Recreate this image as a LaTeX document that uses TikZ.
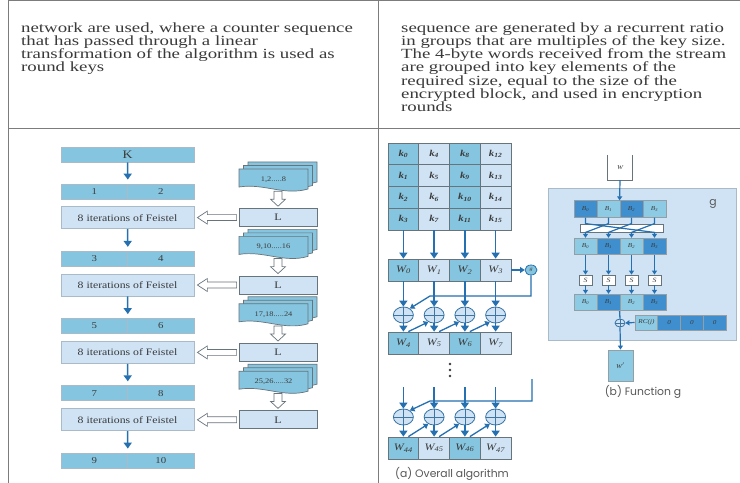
\documentclass[tikz,border=0pt]{standalone}
\usepackage{fontspec}
\setmainfont{Liberation Serif}
\newfontfamily\bodyfont[FakeStretch=1.345]{Liberation Serif}
\newfontfamily\labfont[FakeStretch=1.2]{Liberation Serif}
\newfontfamily\capfont{Poppins}
\usetikzlibrary{arrows.meta,calc,shapes.geometric}

\definecolor{ruleg}{HTML}{7C7C7C}
\definecolor{ink}{HTML}{3A3A3A}
\definecolor{cyanA}{HTML}{86C5DF}
\definecolor{paleA}{HTML}{CFE3F5}
\definecolor{deepB}{HTML}{3F8FCF}
\definecolor{cyanB}{HTML}{8DCBE4}
\definecolor{flow}{HTML}{2470B0}
\definecolor{edgeL}{HTML}{A9BBC8}
\definecolor{edgeD}{HTML}{67747C}

\tikzset{
  tabrule/.style={draw=ruleg, line width=1bp},
  cellbase/.style={inner sep=0pt, text=ink, line width=0.8bp},
  barcell/.style={cellbase, draw=edgeL, fill=cyanA, minimum height=15bp,
    font=\labfont\fontsize{9bp}{9bp}\selectfont},
  feistel/.style={cellbase, draw=edgeL, fill=paleA, minimum width=133bp, minimum height=22bp,
    font=\labfont\fontsize{9.8bp}{10bp}\selectfont},
  lbox/.style={cellbase, draw=edgeD, fill=paleA, minimum width=78bp, minimum height=18bp,
    font=\labfont\fontsize{10bp}{10bp}\selectfont},
  sheet/.style={draw=edgeD, fill=cyanA, line width=0.7bp},
  hollow/.style={draw=edgeD, fill=white, line width=0.7bp},
  flowarrow/.style={draw=flow, line width=1.5bp, -{Triangle[length=6bp,width=8bp]}},
  flowthin/.style={draw=flow, line width=1.3bp, -{Triangle[length=4.5bp,width=6bp]}},
  flowsmall/.style={draw=flow, line width=1.2bp, -{Triangle[length=4bp,width=5bp]}},
  flowline/.style={draw=flow, line width=1.3bp},
  kcell/.style={cellbase, draw=edgeD, minimum width=30.75bp, minimum height=21.75bp,
    font=\labfont\fontsize{9bp}{9bp}\selectfont\bfseries\itshape},
  wcell/.style={cellbase, draw=edgeD, minimum width=30.75bp, minimum height=22bp,
    font=\labfont\fontsize{10bp}{10bp}\selectfont\itshape},
  xorop/.style={ellipse, draw=flow!80!gray, fill=paleA, line width=0.8bp, inner sep=0pt,
    minimum width=20bp, minimum height=16bp,
    path picture={\draw[draw=flow!70!gray, line width=0.6bp]
      (path picture bounding box.north) -- (path picture bounding box.south)
      (path picture bounding box.west) -- (path picture bounding box.east);}},
  bcell/.style={cellbase, draw=edgeD!70, minimum width=23bp, minimum height=16.5bp,
    font=\labfont\fontsize{6bp}{6bp}\selectfont\itshape},
  sbox/.style={cellbase, draw=edgeD, fill=white, minimum width=13bp, minimum height=10bp,
    font=\labfont\fontsize{6.5bp}{6.5bp}\selectfont\itshape},
  captext/.style={text=ink!85, font=\capfont\fontsize{10.8bp}{11bp}\selectfont, inner sep=0pt},
  para/.style={anchor=north west, inner sep=0pt, text width=360bp, align=left, text=ink,
    font=\bodyfont\fontsize{14bp}{13.15bp}\selectfont},
}

% hollow block arrow pointing down, from point #1 to just above point #2
\newcommand\hollowdown[2]{%
  \path[hollow] let \p1=(#1), \p2=(#2) in
    (\x1-4pt,\y1) -- (\x1-4pt,\y2+9pt) -- (\x1-7.5pt,\y2+9pt) -- (\x1,\y2+2pt)
    -- (\x1+7.5pt,\y2+9pt) -- (\x1+4pt,\y2+9pt) -- (\x1+4pt,\y1) -- cycle;}
% hollow block arrow pointing left, from point #1 to just right of point #2
\newcommand\hollowleft[2]{%
  \path[hollow] let \p1=(#1), \p2=(#2) in
    (\x1-2pt,\y1+3pt) -- (\x2+13pt,\y1+3pt) -- (\x2+13pt,\y1+6.5pt) -- (\x2+3pt,\y1)
    -- (\x2+13pt,\y1-6.5pt) -- (\x2+13pt,\y1-3pt) -- (\x1-2pt,\y1-3pt) -- cycle;}
% one document sheet with a wavy lower edge, top-left corner at (#1,#2)
\newcommand\docsheet[2]{%
  \filldraw[sheet] (#1,#2) -- (#1+69,#2) -- (#1+69,#2+20)
    .. controls (#1+45,#2+27) and (#1+25,#2+14) .. (#1,#2+18) -- cycle;}
% a stack of three sheets with a named label node
\newcommand\docstack[4]{%
  \docsheet{#2+9}{#3-7}\docsheet{#2+4.5}{#3-3.5}\docsheet{#2}{#3}%
  \node[inner sep=0pt, minimum width=69bp, minimum height=23bp, text=ink,
        font=\labfont\fontsize{7bp}{7bp}\selectfont] (#1) at (#2+34.5,#3+10.5) {#4};}

\begin{document}
\begin{tikzpicture}[x=1bp,y=-1bp]
\useasboundingbox (0,0) rectangle (740,483);
\fill[white] (0,0) rectangle (740,483);

% table rules
\draw[tabrule] (8,1) -- (740,1);
\draw[tabrule] (8,129) -- (740,129);
\draw[tabrule] (8,1) -- (8,483);
\draw[tabrule] (378,1) -- (378,483);

% paragraphs
\node[para] (ltext) at (21,22.5) {network are used, where a counter sequence\\
that has passed through a linear\\
transformation of the algorithm is used as\\
round keys};
\node[para] (rtext) at (401,22.5) {sequence are generated by a recurrent ratio\\
in groups that are multiples of the key size.\\
The 4-byte words received from the stream\\
are grouped into key elements of the\\
required size, equal to the size of the\\
encrypted block, and used in encryption\\
rounds};

% ---------- key schedule with Feistel rounds ----------
\node[barcell, minimum width=133bp, font=\labfont\fontsize{11.5bp}{11.5bp}\selectfont] (K) at (127.5,154.5) {K};
\foreach \i/\yy/\la/\lb in {1/191.5/1/2, 2/258.75/3/4, 3/326/5/6, 4/393.25/7/8, 5/460.5/9/10} {
  \node[barcell, minimum width=66.5bp] (ha\i) at (94.25,\yy) {\la};
  \node[barcell, minimum width=66.5bp] (hb\i) at (160.75,\yy) {\lb};
}
\foreach \i/\lab in {1/{1,2.....8}, 2/{9,10.....16}, 3/{17,18.....24}, 4/{25,26.....32}} {
  \pgfmathsetmacro\fy{217.6+67.4*(\i-1)}
  \pgfmathsetmacro\sy{169+67.4*(\i-1)}
  \node[feistel] (F\i) at (127.5,\fy) {8 iterations of Feistel};
  \node[lbox] (L\i) at (278,\fy) {L};
  \docstack{S\i}{239}{\sy}{\lab}
  \hollowdown{S\i.south -| L\i.north}{L\i.north}
  \hollowleft{L\i.west}{F\i.east}
}
\draw[flowarrow, shorten >=4bp] (K.south) -- (ha1.north east);
\foreach \i/\j in {1/2, 2/3, 3/4, 4/5} {
  \draw[flowarrow, shorten >=4bp] (F\i.south) -- (ha\j.north east);
}

% ---------- (a) overall algorithm ----------
\foreach \col in {0,...,3} {
  \foreach \row in {0,...,3} {
    \pgfmathtruncatemacro\kk{4*\col+\row}
    \pgfmathsetmacro\kx{403.375+30.75*\col}
    \pgfmathsetmacro\ky{153.875+21.75*\row}
    \ifodd\col \def\kf{paleA}\else \def\kf{cyanA}\fi
    \node[kcell, fill=\kf] (k\kk) at (\kx,\ky) {k\textsubscript{\kk}};
  }
}
\foreach \col in {0,...,3} {
  \pgfmathsetmacro\kx{403.375+30.75*\col}
  \ifodd\col \def\kf{paleA}\else \def\kf{cyanA}\fi
  \pgfmathtruncatemacro\wa{\col+4}
  \pgfmathtruncatemacro\wb{\col+44}
  \node[wcell, fill=\kf] (w\col) at (\kx,270) {W\textsubscript{\col}};
  \node[wcell, fill=\kf] (w\wa) at (\kx,343) {W\textsubscript{\wa}};
  \node[wcell, fill=\kf] (w\wb) at (\kx,448) {W\textsubscript{\wb}};
  \node[xorop] (xa\col) at (\kx,315) {};
  \node[xorop] (xb\col) at (\kx,417) {};
  \coordinate (in\col) at (\kx,387);
}
\foreach \col in {0,...,3} {
  \pgfmathtruncatemacro\kb{4*\col+3}
  \pgfmathtruncatemacro\wa{\col+4}
  \pgfmathtruncatemacro\wb{\col+44}
  \draw[flowarrow] (k\kb.south) -- (w\col.north);
  \draw[flowarrow] (w\col.south) -- (xa\col.north);
  \draw[flowarrow] (xa\col.south) -- (w\wa.north);
  \draw[flowarrow] (in\col) -- (xb\col.north);
  \draw[flowarrow] (xb\col.south) -- (w\wb.north);
}
\foreach \col/\nx in {0/1, 1/2, 2/3} {
  \pgfmathtruncatemacro\wa{\col+4}
  \pgfmathtruncatemacro\wb{\col+44}
  \draw[flowthin] ($(w\wa.north)+(5,0)$) -- (xa\nx.230);
  \draw[flowthin] ($(w\wb.north)+(5,0)$) -- (xb\nx.230);
}
\node[ellipse, draw=flow, fill=cyanA, line width=0.8bp, minimum width=12bp, minimum height=10bp,
      inner sep=0pt, text=ink, font=\labfont\fontsize{5bp}{5bp}\selectfont\itshape] (gfun) at (531,270) {g};
\draw[flowthin] (w3.east) -- (gfun.west);
\coordinate (fa1) at (531,296);
\coordinate (fa2) at (430,296);
\draw[flowthin] (gfun.south) -- (fa1) -- (fa2) -- (xa0.45);
\coordinate (fb0) at (532,379);
\coordinate (fb1) at (532,401);
\coordinate (fb2) at (430,401);
\draw[flowthin] (fb0) -- (fb1) -- (fb2) -- (xb0.45);
\foreach \dy in {364,370,376} { \fill[ink] (450,\dy) circle (1.3bp); }
\node[captext] (capa) at (452,474) {(a) Overall algorithm};

% ---------- (b) function g ----------
\node[cellbase, draw=edgeL, fill=paleA, minimum width=188bp, minimum height=152bp] (gbox) at (642,264) {};
\node[captext] (glab) at (713,204) {g};
\node[inner sep=0pt, minimum width=24bp, minimum height=25bp, fill=white, text=ink,
      font=\labfont\fontsize{6bp}{6bp}\selectfont\itshape] (win) at (620,167.5) {W};
\draw[draw=edgeD, line width=0.7bp] (win.north west) -- (win.south west) -- (win.south east) -- (win.north east);
\foreach \i/\fa/\fb in {0/deepB/cyanB, 1/cyanB/deepB, 2/deepB/cyanB, 3/cyanB/deepB} {
  \pgfmathsetmacro\bx{585.5+23*\i}
  \node[bcell, fill=\fa] (ba\i) at (\bx,209) {B\textsubscript{\i}};
  \node[bcell, fill=\fb] (bb\i) at (\bx,246.5) {B\textsubscript{\i}};
  \node[sbox] (sb\i) at (\bx,280) {S};
  \node[bcell, fill=\fb] (bc\i) at (\bx,302.5) {B\textsubscript{\i}};
  \draw[flowsmall] (bb\i.south) -- (sb\i.north);
  \draw[flowsmall] (sb\i.south) -- (bc\i.north);
}
\draw[flowsmall] (win.south) -- (ba2.north west);
\node[cellbase, draw=edgeD, fill=white, minimum width=83bp, minimum height=8bp] (perm) at (621.5,228) {};
\foreach \i/\j in {0/3, 1/0, 2/1, 3/2} {
  \draw[flowsmall] (ba\i.south) -- (ba\i.south |- perm.north) -- (bb\j.north |- perm.south) -- (bb\j.north);
}
\node[xorop, minimum width=10bp, minimum height=8bp] (xg) at (620,323) {};
\draw[flowline] (bc2.south west) -- (xg.north);
\foreach \i/\lab/\fc in {0/{RC(j)}/cyanB, 1/0/deepB, 2/0/deepB, 3/0/deepB} {
  \pgfmathsetmacro\rx{646.4+22.75*\i}
  \node[bcell, minimum width=22.75bp, minimum height=15bp, fill=\fc] (rc\i) at (\rx,322.5) {\lab};
}
\draw[flowsmall] (rc0.west) -- (xg.east);
\node[cellbase, draw=edgeD!70, fill=cyanB, minimum width=25bp, minimum height=31bp,
      font=\labfont\fontsize{6bp}{6bp}\selectfont\itshape] (wout) at (620.5,365.5) {W$'$};
\draw[flowsmall] (xg.south) -- (wout.north);
\node[captext] (capb) at (643,392) {(b) Function g};
\end{tikzpicture}
\end{document}
